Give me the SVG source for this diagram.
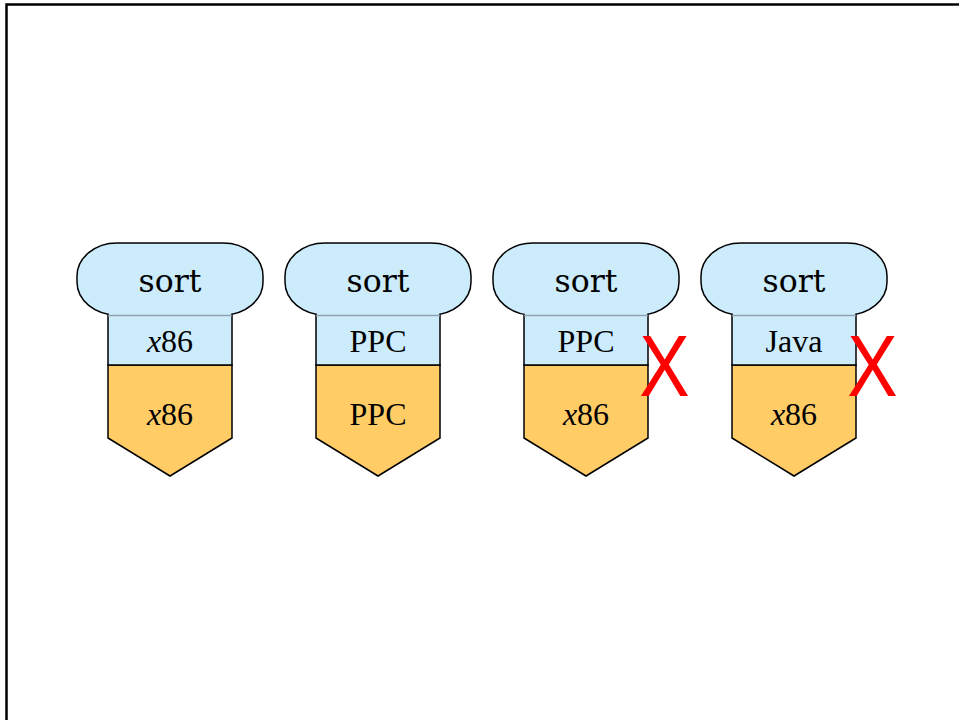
<svg xmlns="http://www.w3.org/2000/svg" width="959" height="720" viewBox="0 0 959 720">
<style>
.head{fill:#CCEBFB;stroke:#000;stroke-width:1.5}
.stem{fill:#CCEBFB;stroke:#000;stroke-width:1.5}
.base{fill:#FFCC66;stroke:#000;stroke-width:1.5}
.seam{stroke:#8FA3AE;stroke-width:1.5}
.t1{font-family:"DejaVu Serif",serif;font-size:31.5px;text-anchor:middle;fill:#000}
.t2{font-family:"Liberation Serif",serif;font-size:32px;text-anchor:middle;fill:#000}
.x{font-family:"Liberation Sans",sans-serif;font-size:88px;text-anchor:middle;fill:#FF0000}
</style>
<rect x="0" y="0" width="959" height="720" fill="#fff"/>
<rect x="6.5" y="4.5" width="1000" height="1000" fill="none" stroke="#000" stroke-width="2.5"/>
<defs>
<g id="stack">
<rect class="head" x="-93" y="243" width="186" height="72" rx="40" ry="33"/>
<path class="base" d="M-62,365 L62,365 L62,438 L0,476 L-62,438 Z"/>
<path class="stem" d="M-62,315 L-62,365 L62,365 L62,315"/>
<rect x="-61" y="312" width="122" height="3" fill="#CCEBFB"/>
<line class="seam" x1="-62" y1="315.5" x2="62" y2="315.5"/>
</g>
</defs>
<g id="node1" transform="translate(170,0)">
<use href="#stack"/>
<text class="t1" x="0" y="292">sort</text>
<text class="t2" x="0" y="352"><tspan font-style="italic">x</tspan>86</text>
<text class="t2" x="0" y="425"><tspan font-style="italic">x</tspan>86</text>
</g>
<g id="node2" transform="translate(378,0)">
<use href="#stack"/>
<text class="t1" x="0" y="292">sort</text>
<text class="t2" x="0" y="352">PPC</text>
<text class="t2" x="0" y="425">PPC</text>
</g>
<g id="node3" transform="translate(586,0)">
<use href="#stack"/>
<text class="t1" x="0" y="292">sort</text>
<text class="t2" x="0" y="352">PPC</text>
<text class="t2" x="0" y="425"><tspan font-style="italic">x</tspan>86</text>
</g>
<g id="node4" transform="translate(794,0)">
<use href="#stack"/>
<text class="t1" x="0" y="292">sort</text>
<text class="t2" x="0" y="352">Java</text>
<text class="t2" x="0" y="425"><tspan font-style="italic">x</tspan>86</text>
</g>
<g id="marks">
<text class="x" transform="translate(664.5,396) scale(0.86,1)">X</text>
<text class="x" transform="translate(872.5,396) scale(0.86,1)">X</text>
</g>
<g id="connectors"/>
</svg>
